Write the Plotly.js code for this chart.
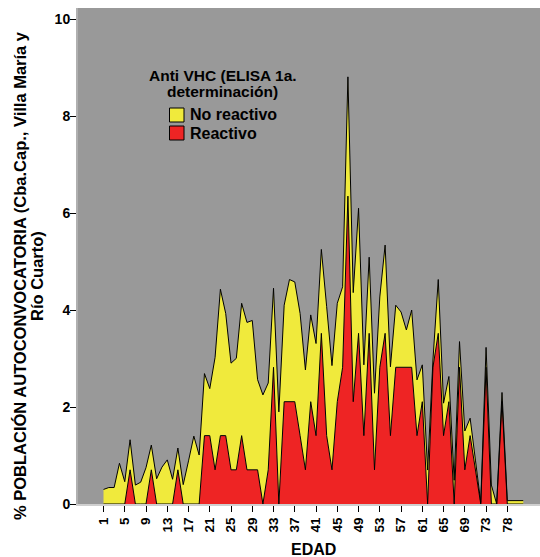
<!DOCTYPE html>
<html>
<head>
<meta charset="utf-8">
<script src="https://cdn.plot.ly/plotly-3.0.1.min.js"></script>
<style>
  html, body { margin: 0; padding: 0; background: #ffffff; }
  #chart { width: 540px; height: 557px; }
</style>
</head>
<body>
<div id="chart"></div>
<script>
// Age categories (EDAD); the last ones after 73 are the ages present in the sample
const edad = ['1','2','3','4','5','6','7','8','9','10','11','12','13','14','15','16','17','18','19','20',
  '21','22','23','24','25','26','27','28','29','30','31','32','33','34','35','36','37','38','39','40',
  '41','42','43','44','45','46','47','48','49','50','51','52','53','54','55','56','57','58','59','60',
  '61','62','63','64','65','66','67','68','69','70','71','72','73','74','75','76','78','79','80','82'];

// % of population, Reactivo (stacked at the bottom)
const reactivo = [0,0,0,0,0,0.705,0,0,0,0.705,0,0,0,0,0.705,0,0,0,0,1.41,
  1.41,0.705,1.41,1.41,0.705,0.705,1.41,0.705,0.705,0.705,0,0.705,2.82,0,2.11,2.11,2.11,1.41,0.705,2.11,
  1.41,3.52,1.41,0.705,2.11,2.82,6.35,2.11,3.52,1.41,3.52,0.705,2.82,3.52,1.41,2.82,2.82,2.82,2.82,1.41,
  2.11,0,2.82,3.52,1.41,2.11,0,2.82,0.705,1.41,0.705,0,2.82,0,0,2.11,0,0,0,0];

// % of population, No reactivo (stacked on top)
const noReactivo = [0.30,0.34,0.34,0.84,0.46,0.62,0.39,0.45,0.75,0.51,0.52,0.76,0.91,0.51,0.45,0.40,0.89,1.40,1.01,1.28,
  0.97,2.32,3.02,2.52,2.20,2.30,2.73,3.04,3.08,1.86,2.25,1.79,1.63,1.90,1.99,2.52,2.47,2.52,2.06,1.79,
  1.90,1.73,2.66,2.15,2.03,1.66,2.46,2.25,2.58,1.46,1.57,1.58,1.45,1.82,1.42,1.28,1.14,0.77,1.18,1.15,
  0.76,0.70,0.15,1.11,0.67,0.52,0.49,0.53,0.80,0.36,0.20,0.03,0.41,0.39,0,0.19,0.07,0.07,0.07,0.07];

const tickLabels = ['1','5','9','13','17','21','25','29','33','37','41','45','49','53','57','61','65','69','73','78'];
const yTicks = [0, 2, 4, 6, 8, 10];

const seriesNames = ['No reactivo', 'Reactivo'];
const legendTitle = ['Anti VHC (ELISA 1a.', 'determinación)'];
const yTitle = ['% POBLACIÓN AUTOCONVOCATORIA (Cba.Cap., Villa María y', 'Río Cuarto)'];
const xTitle = 'EDAD';

const RED = '#ee2424';
const YELLOW = '#f0ea3c';
const PLOT_BG = '#999999';
const FONT = 'Liberation Sans, Arial, sans-serif';

// plot frame in pixels
const W = 540, H = 557;
const M = { l: 78, r: 0, t: 8, b: 53 };
const pw = W - M.l - M.r, ph = H - M.t - M.b;
const px = v => (v - M.l) / pw;          // page x -> paper x
const py = v => (H - M.b - v) / ph;      // page y -> paper y

const traces = [
  {
    x: edad, y: reactivo, name: seriesNames[1], type: 'scatter', mode: 'lines',
    stackgroup: 'vhc', fillcolor: RED, line: { color: '#000000', width: 1 },
    showlegend: false, hoverinfo: 'x+y'
  },
  {
    x: edad, y: noReactivo, name: seriesNames[0], type: 'scatter', mode: 'lines',
    stackgroup: 'vhc', fillcolor: YELLOW, line: { color: '#000000', width: 1 },
    showlegend: false, hoverinfo: 'x+y'
  }
];

const boldFont = (size) => ({ family: FONT, size: size, color: '#000000', weight: 'bold' });

const annotations = [
  { text: legendTitle[0], x: px(223), y: py(75.5), xanchor: 'center', size: 15.5 },
  { text: legendTitle[1], x: px(222.5), y: py(91), xanchor: 'center', size: 15.5 },
  { text: seriesNames[0], x: px(188), y: py(115), xanchor: 'left', size: 16 },
  { text: seriesNames[1], x: px(188), y: py(133), xanchor: 'left', size: 16 },
  { text: xTitle, x: px(313), y: py(549), xanchor: 'center', size: 16 },
  { text: yTitle[0], x: px(20), y: py(276), xanchor: 'center', size: 16.5, textangle: -90 },
  { text: yTitle[1], x: px(37), y: py(276), xanchor: 'center', size: 16.5, textangle: -90 }
].map(a => ({
  text: a.text, x: a.x, y: a.y, xref: 'paper', yref: 'paper',
  xanchor: a.xanchor, yanchor: 'middle', showarrow: false,
  textangle: a.textangle || 0, font: boldFont(a.size)
}));

const swatch = (y0, y1, color) => ({
  type: 'rect', xref: 'paper', yref: 'paper',
  x0: px(169.5), x1: px(184), y0: py(y1), y1: py(y0),
  fillcolor: color, line: { color: '#000000', width: 1 }
});

const layout = {
  width: W, height: H,
  margin: M,
  paper_bgcolor: '#ffffff',
  plot_bgcolor: PLOT_BG,
  showlegend: false,
  xaxis: {
    type: 'category',
    range: [-4.8, 82.15],
    tickmode: 'array', tickvals: tickLabels, ticktext: tickLabels,
    tickangle: -90, ticks: 'outside', ticklen: 6, tickwidth: 1, tickcolor: '#000000',
    tickfont: boldFont(13.5),
    showline: true, linecolor: '#cfcfcf', linewidth: 2,
    showgrid: false, zeroline: false, fixedrange: true
  },
  yaxis: {
    range: [0, 10.23],
    tickmode: 'array', tickvals: yTicks,
    ticks: 'outside', ticklen: 6, tickwidth: 1, tickcolor: '#000000',
    tickfont: boldFont(14), ticklabelstandoff: -3,
    showline: true, linecolor: '#b0b0b0', linewidth: 2,
    showgrid: false, zeroline: false, fixedrange: true
  },
  annotations: annotations,
  shapes: [swatch(108, 122, YELLOW), swatch(126, 140, RED)]
};

Plotly.newPlot('chart', traces, layout, { displayModeBar: false, staticPlot: true });
</script>
</body>
</html>
